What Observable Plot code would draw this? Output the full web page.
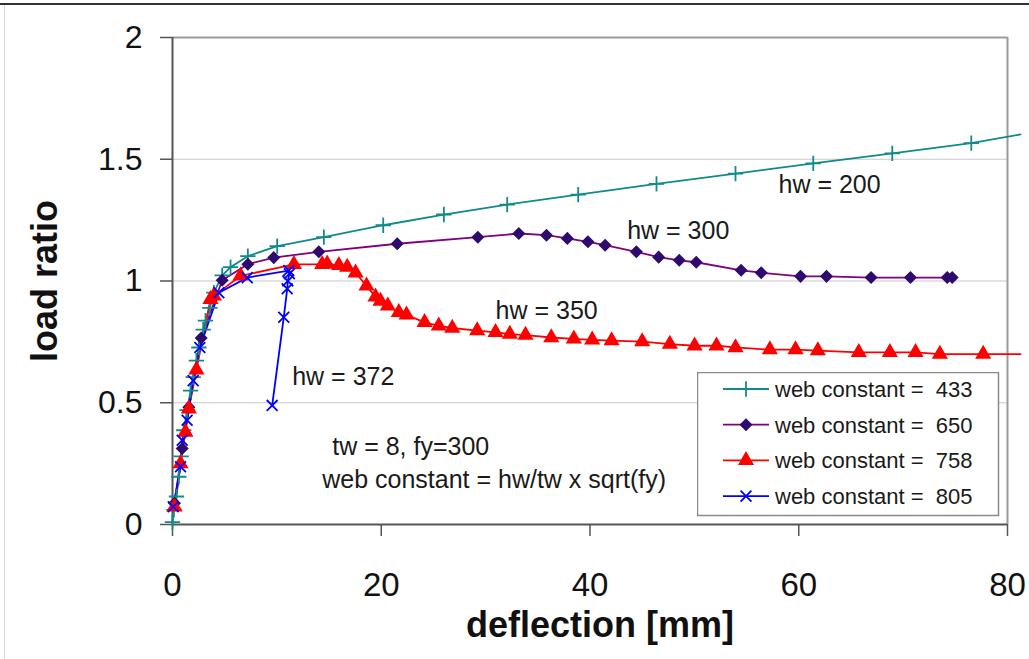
<!DOCTYPE html>
<html><head><meta charset="utf-8">
<script src="https://cdn.jsdelivr.net/npm/d3@7"></script>
<script src="https://cdn.jsdelivr.net/npm/@observablehq/plot@0.6"></script>
<style>
html,body{margin:0;padding:0;background:#fff;}
#wrap{position:relative;width:1029px;height:659px;overflow:hidden;font-family:"Liberation Sans",Arial,sans-serif;}
#topline{position:absolute;left:0;top:3px;width:1029px;height:2px;background:#333;}
#leftline{position:absolute;left:4px;top:5px;width:1px;height:654px;background:#d8d8d8;}
#legend{position:absolute;left:697px;top:372px;}
</style></head>
<body>
<div id="wrap"><div id="chart"></div><div id="topline"></div><div id="leftline"></div><div id="legend"></div></div>
<script>
// ---- data ----
const seriesNames = ["web constant =  433", "web constant =  650", "web constant =  758", "web constant =  805"];
const seriesColors = ["#108a8a", "#800080", "#ff0000", "#0000ff"];
const markerFill = ["#108a8a", "#2e0a6e", "#ff0000", "#0000ff"];
const seriesSymbols = ["plus", "diamond", "triangle", "times"];

const defl433 = [0, 0.13, 0.38, 0.61, 0.83, 1.08, 1.40, 1.73, 1.98, 2.29, 2.53, 2.94, 3.16, 3.58, 3.96, 4.76, 5.56, 7.22, 10.03, 14.5, 20.19, 26.0, 32.07, 38.87, 46.37, 53.94, 61.39, 68.96, 76.53, 81.25];
const load433 = [0.01, 0.06, 0.115, 0.196, 0.28, 0.387, 0.47, 0.55, 0.605, 0.673, 0.727, 0.80, 0.837, 0.89, 0.952, 1.023, 1.057, 1.102, 1.143, 1.18, 1.229, 1.273, 1.314, 1.355, 1.399, 1.441, 1.483, 1.524, 1.566, 1.602];

const defl650 = [0.19, 0.93, 1.57, 2.75, 4.76, 7.22, 9.70, 14.02, 21.53, 29.25, 33.18, 35.83, 37.83, 39.80, 41.45, 44.44, 46.58, 48.55, 50.18, 54.48, 56.40, 60.17, 62.66, 66.93, 70.70, 74.22, 74.7];
const load650 = [0.087, 0.312, 0.482, 0.766, 1.003, 1.069, 1.096, 1.12, 1.153, 1.18, 1.195, 1.188, 1.175, 1.161, 1.147, 1.12, 1.098, 1.085, 1.077, 1.044, 1.034, 1.019, 1.019, 1.014, 1.014, 1.014, 1.014];

const defl758 = [0.19, 0.77, 1.24, 1.57, 2.29, 3.64, 3.96, 6.52, 11.63, 14.34, 14.82, 15.94, 16.74, 17.54, 18.59, 19.45, 19.93, 20.63, 21.68, 22.42, 24.15, 25.51, 26.8, 29.19, 30.95, 32.32, 33.82, 36.29, 38.45, 40.21, 42.07, 45.0, 47.65, 50.02, 52.12, 53.94, 57.23, 59.69, 61.83, 65.75, 68.73, 71.19, 73.52, 77.67, 81.25];
const load758 = [0.073, 0.25, 0.38, 0.475, 0.635, 0.925, 0.939, 1.021, 1.068, 1.068, 1.071, 1.064, 1.057, 1.034, 0.98, 0.935, 0.918, 0.898, 0.871, 0.861, 0.83, 0.816, 0.807, 0.796, 0.789, 0.782, 0.778, 0.768, 0.762, 0.758, 0.755, 0.751, 0.741, 0.734, 0.734, 0.727, 0.718, 0.718, 0.714, 0.707, 0.707, 0.707, 0.70, 0.70, 0.70];

const defl805 = [0.07, 0.77, 0.93, 1.40, 1.98, 2.62, 4.44, 7.16, 11.14, 11.2, 11.05, 10.99, 10.66, 9.55];
const load805 = [0.073, 0.237, 0.346, 0.428, 0.591, 0.727, 0.952, 1.014, 1.043, 1.03, 1.0, 0.968, 0.851, 0.489];

const xTicks = [0, 20, 40, 60, 80];
const yTicks = [0, 0.5, 1, 1.5, 2];
const annotationText = ["hw = 200", "hw = 300", "hw = 350", "hw = 372", "tw = 8, fy=300", "web constant = hw/tw x sqrt(fy)"];
const annotationX = [58.06, 43.56, 30.95, 11.47, 15.3, 14.34];
const annotationY = [1.396, 1.204, 0.876, 0.605, 0.318, 0.183];
const axisTitleX = "deflection [mm]";
const axisTitleY = "load ratio";

// ---- build table ----
const defls = [defl433, defl650, defl758, defl805];
const loads = [load433, load650, load758, load805];
const rows = [];
seriesNames.forEach((s, i) => defls[i].forEach((d, j) => rows.push({series: s, idx: i, x: d, y: loads[i][j]})));
const annotations = annotationText.map((t, i) => ({text: t, x: annotationX[i], y: annotationY[i]}));

const font = "Liberation Sans, Arial, sans-serif";
const symOf = s => s === "diamond" ? "square" : s;
const rOf = s => s === "triangle" ? 6 : (s === "diamond" ? 5.2 : 5);
const lineMarks = [], dotMarks = [];
seriesNames.forEach((s, i) => {
  const d = rows.filter(r => r.idx === i);
  lineMarks.push(Plot.line(d, {x: "x", y: "y", stroke: seriesColors[i], strokeWidth: 1.8}));
  const inside = d.filter(r => r.x <= 80);
  const sym = seriesSymbols[i];
  const stroked = sym === "plus" || sym === "times";
  dotMarks.push(Plot.dot(inside, {x: "x", y: "y", symbol: () => symOf(sym),
    rotate: sym === "diamond" ? 45 : 0,
    r: rOf(sym),
    fill: stroked ? "none" : markerFill[i],
    stroke: stroked ? markerFill[i] : "none",
    strokeWidth: stroked ? 1.8 : 0}));
});

const chart = Plot.plot({
  width: 1029, height: 659,
  marginLeft: 172, marginRight: 22, marginTop: 37, marginBottom: 135,
  style: {fontFamily: font, background: "#fff", overflow: "visible"},
  x: {domain: [0, 80]},
  y: {domain: [0, 2]},
  marks: [
    Plot.gridY(yTicks, {stroke: "#c8c8c8", strokeOpacity: 1, strokeWidth: 1.2}),
    Plot.ruleY([2], {stroke: "#9a9a9a", strokeWidth: 2}),
    Plot.ruleX([80], {stroke: "#9a9a9a", strokeWidth: 2}),
    Plot.axisY({ticks: yTicks, tickFormat: d => String(d), tickSize: 12, tickPadding: 18, fontSize: 32, label: null, stroke: "#555", strokeWidth: 1.5, fill: "#111"}),
    Plot.axisX({ticks: xTicks, tickFormat: d => String(d), tickSize: 12, tickPadding: 36, fontSize: 33, label: null, stroke: "#555", strokeWidth: 1.5, fill: "#111"}),
    Plot.ruleX([0], {stroke: "#555", strokeWidth: 2}),
    Plot.ruleY([0], {stroke: "#555", strokeWidth: 2}),
    ...lineMarks,
    ...dotMarks,
    Plot.text(annotations, {x: "x", y: "y", text: "text", textAnchor: "start", fontSize: 25, fill: "#1a1a1a"}),
    Plot.text([axisTitleY], {frameAnchor: "left", textAnchor: "middle", dx: -127, rotate: -90, fontSize: 36, fontWeight: "bold", fill: "#111"}),
    Plot.text([axisTitleX], {frameAnchor: "bottom", textAnchor: "middle", dx: 10, dy: 112, fontSize: 36, fontWeight: "bold", fill: "#111"})
  ]
});
document.getElementById("chart").appendChild(chart);

// ---- legend ----
const lw = 301, lh = 143;
const lsvg = d3.select("#legend").append("svg").attr("width", lw + 2).attr("height", lh + 2)
  .style("font-family", font);
lsvg.append("rect").attr("x", 0.5).attr("y", 0.5).attr("width", lw).attr("height", lh)
  .attr("fill", "#fff").attr("stroke", "#8a8a8a").attr("stroke-width", 1.5);
const symGen = {plus: d3.symbolPlus, diamond: d3.symbolSquare, triangle: d3.symbolTriangle, times: d3.symbolTimes};
seriesNames.forEach((s, i) => {
  const cy = 17 + i * 35.7;
  const g = lsvg.append("g");
  g.append("line").attr("x1", 26).attr("x2", 72).attr("y1", cy).attr("y2", cy)
    .attr("stroke", seriesColors[i]).attr("stroke-width", 1.8);
  const sym = seriesSymbols[i];
  const stroked = sym === "plus" || sym === "times";
  const r = rOf(sym);
  const path = d3.symbol(symGen[sym], Math.PI * r * r)();
  g.append("path").attr("d", path).attr("transform", `translate(49,${cy})` + (sym === "diamond" ? " rotate(45)" : ""))
    .attr("fill", stroked ? "none" : markerFill[i])
    .attr("stroke", stroked ? markerFill[i] : "none").attr("stroke-width", 1.8);
  g.append("text").attr("x", 78).attr("y", cy).attr("dy", "0.36em")
    .attr("font-size", 22).attr("fill", "#1a1a1a").attr("xml:space", "preserve")
    .style("white-space", "pre").text(s);
});
</script>
</body></html>
